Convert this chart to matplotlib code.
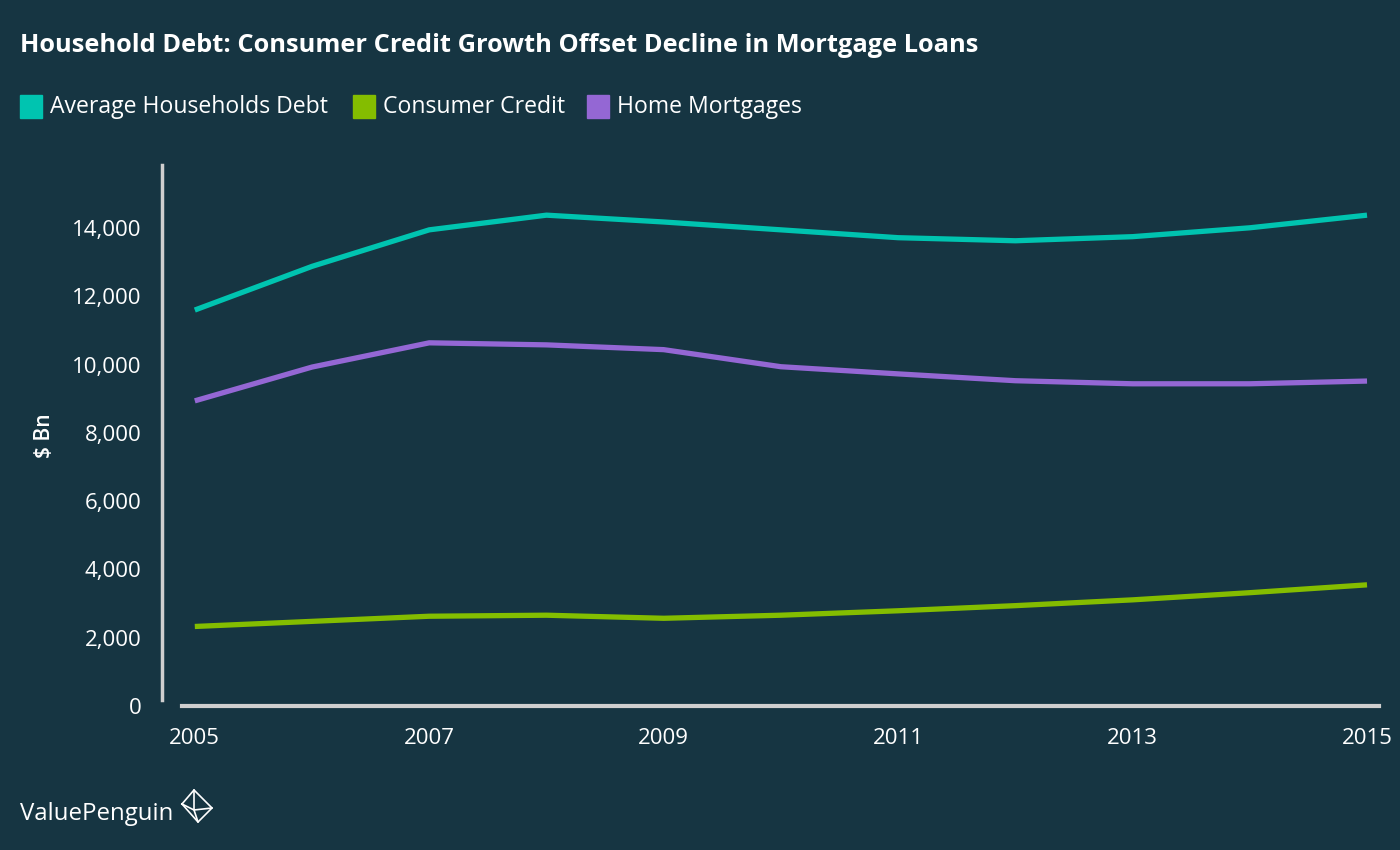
import numpy as np
import matplotlib.pyplot as plt
from matplotlib.patches import Rectangle

# datos ($ Bn)
anios = [2005, 2006, 2007, 2008, 2009, 2010, 2011, 2012, 2013, 2014, 2015]
deuda_total = [11600, 12880, 13950, 14380, 14180, 13950, 13720, 13630, 13750, 14010, 14380]
credito_consumo = [2330, 2480, 2630, 2660, 2570, 2660, 2790, 2940, 3110, 3320, 3550]
hipotecas = [8940, 9930, 10640, 10580, 10440, 9940, 9730, 9530, 9440, 9440, 9520]

series = ['Average Households Debt', 'Consumer Credit', 'Home Mortgages']
colores = ['#00c4b0', '#84bd00', '#9467d4']
ticks_x = [2005, 2007, 2009, 2011, 2013, 2015]
ticks_y = [0, 2000, 4000, 6000, 8000, 10000, 12000, 14000]

fondo = '#163542'
plt.rcParams['font.family'] = ['Open Sans', 'DejaVu Sans']

fig = plt.figure(figsize=(14, 8.5), dpi=100, facecolor=fondo)
ax = fig.add_axes([0.1157, 0.1694, 0.8733, 0.6365])
ax.set_facecolor(fondo)

for datos, nombre, color in zip([deuda_total, credito_consumo, hipotecas], series, colores):
    ax.plot(anios, datos, color=color, linewidth=3.8, label=nombre, solid_capstyle='butt')

ax.set_xlim(2004.72, 2015.15)
ax.set_ylim(0, 15850)
ax.set_xticks(ticks_x)
ax.set_xticklabels([str(t) for t in ticks_x])
ax.set_yticks(ticks_y)
ax.set_yticklabels([f'{t:,}' for t in ticks_y])
ax.tick_params(axis='both', length=0, colors='white', labelsize=16)
ax.tick_params(axis='x', pad=16)
ax.tick_params(axis='y', pad=15)

for s in ['top', 'right']:
    ax.spines[s].set_visible(False)
ax.spines['left'].set_color('#cfcfcf')
ax.spines['left'].set_linewidth(2.5)
ax.spines['left'].set_bounds(180, 15850)
ax.spines['bottom'].set_color('#cfcfcf')
ax.spines['bottom'].set_linewidth(3)
ax.spines['bottom'].set_bounds(2004.89, 2015.1)

ax.set_ylabel('$ Bn', color='white', fontsize=15, fontweight='semibold', labelpad=12)

# titulo
fig.text(20 / 1400, 1 - 45 / 850, 'Household Debt: Consumer Credit Growth Offset Decline in Mortgage Loans',
         color='white', fontsize=18.3, fontweight='bold', va='center', ha='left')

# leyenda manual
pos_x = [20, 353, 587]
for x0, nombre, color in zip(pos_x, series, colores):
    fig.patches.append(Rectangle((x0 / 1400, 1 - 118 / 850), 22 / 1400, 23 / 850,
                                 transform=fig.transFigure, color=color))
    fig.text((x0 + 30) / 1400, 1 - 107 / 850, nombre, color='white', fontsize=16.6,
             va='center', ha='left')

# marca
fig.text(20 / 1400, 1 - 814 / 850, 'ValuePenguin', color='white', fontsize=17.3,
         va='center', ha='left')
cx, cy = 197, 806
pts = np.array([[cx - 15, cy - 2], [cx - 3, cy - 16], [cx + 15, cy + 2], [cx + 1, cy + 16], [cx - 15, cy - 2]])
fig.add_artist(plt.Line2D(pts[:, 0] / 1400, 1 - pts[:, 1] / 850, color='white', linewidth=1.2,
                          transform=fig.transFigure))
fig.add_artist(plt.Line2D([(cx - 3) / 1400, (cx - 3) / 1400, (cx + 15) / 1400],
                          [1 - (cy - 16) / 850, 1 - (cy + 4) / 850, 1 - (cy + 2) / 850],
                          color='white', linewidth=1.2, transform=fig.transFigure))
fig.add_artist(plt.Line2D([(cx - 15) / 1400, (cx - 3) / 1400, (cx + 1) / 1400],
                          [1 - (cy - 2) / 850, 1 - (cy + 4) / 850, 1 - (cy + 16) / 850],
                          color='white', linewidth=1.2, transform=fig.transFigure))

fig.savefig('out.png', facecolor=fondo)
